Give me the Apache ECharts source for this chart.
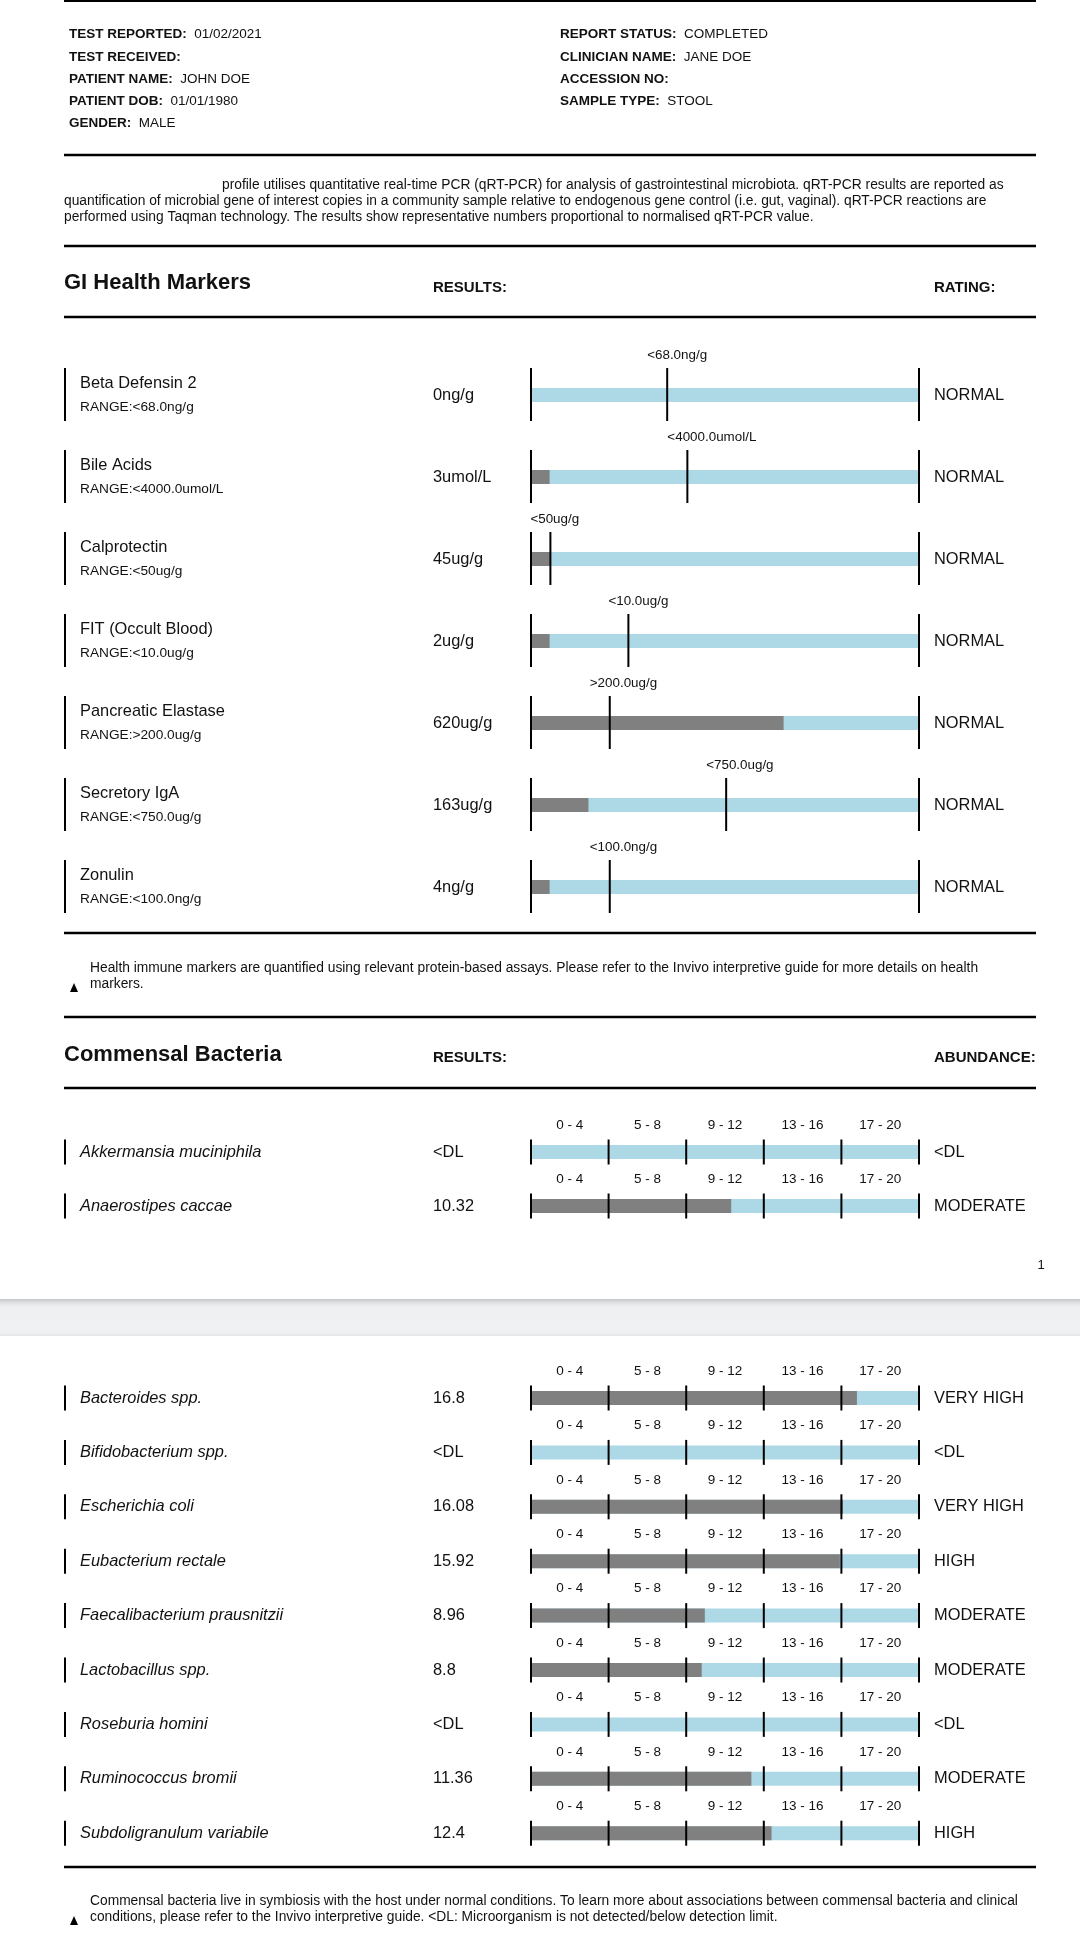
<!DOCTYPE html>
<html><head><meta charset="utf-8">
<script src="https://cdn.jsdelivr.net/npm/echarts@6/dist/echarts.min.js"></script>
<style>html,body{margin:0;padding:0;background:#fff}#c{width:1080px;height:1945px}</style>
</head><body><div id="c"></div>
<script>
// ---------- DATA ----------
const headerLeft = [['TEST REPORTED:', '01/02/2021'], ['TEST RECEIVED:', ''], ['PATIENT NAME:', 'JOHN DOE'], ['PATIENT DOB:', '01/01/1980'], ['GENDER:', 'MALE']];
const headerRight = [['REPORT STATUS:', 'COMPLETED'], ['CLINICIAN NAME:', 'JANE DOE'], ['ACCESSION NO:', ''], ['SAMPLE TYPE:', 'STOOL']];
const introLines = [
  'profile utilises quantitative real-time PCR (qRT-PCR) for analysis of gastrointestinal microbiota. qRT-PCR results are reported as',
  'quantification of microbial gene of interest copies in a community sample relative to endogenous gene control (i.e. gut, vaginal). qRT-PCR reactions are',
  'performed using Taqman technology. The results show representative numbers proportional to normalised qRT-PCR value.'
];
const giNames = ['Beta Defensin 2', 'Bile Acids', 'Calprotectin', 'FIT (Occult Blood)', 'Pancreatic Elastase', 'Secretory IgA', 'Zonulin'];
const giRanges = ['RANGE:<68.0ng/g', 'RANGE:<4000.0umol/L', 'RANGE:<50ug/g', 'RANGE:<10.0ug/g', 'RANGE:>200.0ug/g', 'RANGE:<750.0ug/g', 'RANGE:<100.0ng/g'];
const giThresholdLabels = ['<68.0ng/g', '<4000.0umol/L', '<50ug/g', '<10.0ug/g', '>200.0ug/g', '<750.0ug/g', '<100.0ng/g'];
const giResults = ['0ng/g', '3umol/L', '45ug/g', '2ug/g', '620ug/g', '163ug/g', '4ng/g'];
const giRatings = ['NORMAL', 'NORMAL', 'NORMAL', 'NORMAL', 'NORMAL', 'NORMAL', 'NORMAL'];
// positions on each marker's track, in percent of the track
const giThresholdPct = [35.1, 40.3, 5.0, 25.1, 20.3, 50.3, 20.3];
const giBarPct = [0, 4.8, 5.0, 4.8, 65.1, 14.8, 4.8];
const giFootnote = ['Health immune markers are quantified using relevant protein-based assays. Please refer to the Invivo interpretive guide for more details on health', 'markers.'];

const bandLabels = ['0 - 4', '5 - 8', '9 - 12', '13 - 16', '17 - 20'];
const bandTicks = [0, 4, 8, 12, 16, 20];
const bac1Names = ['Akkermansia muciniphila', 'Anaerostipes caccae'];
const bac1Results = ['<DL', '10.32'];
const bac1Values = [0, 10.32];
const bac1Abundance = ['<DL', 'MODERATE'];
const bac2Names = ['Bacteroides spp.', 'Bifidobacterium spp.', 'Escherichia coli', 'Eubacterium rectale', 'Faecalibacterium prausnitzii', 'Lactobacillus spp.', 'Roseburia homini', 'Ruminococcus bromii', 'Subdoligranulum variabile'];
const bac2Results = ['16.8', '<DL', '16.08', '15.92', '8.96', '8.8', '<DL', '11.36', '12.4'];
const bac2Values = [16.8, 0, 16.08, 15.92, 8.96, 8.8, 0, 11.36, 12.4];
const bac2Abundance = ['VERY HIGH', '<DL', 'VERY HIGH', 'HIGH', 'MODERATE', 'MODERATE', '<DL', 'MODERATE', 'HIGH'];
const bacFootnote = ['Commensal bacteria live in symbiosis with the host under normal conditions. To learn more about associations between commensal bacteria and clinical', 'conditions, please refer to the Invivo interpretive guide. <DL: Microorganism is not detected/below detection limit.'];

// ---------- STYLE ----------
const FF = "'Liberation Sans', Arial, Helvetica, sans-serif";
const BLUE = '#add8e6', GREY = '#808080', INK = '#111';
const F_MAIN = '16.4px ' + FF, F_SMALL = '13.8px ' + FF;

function txt(text, x, y, font, opts) {
  opts = opts || {};
  return { type: 'text', x: x, y: y, silent: true, z: 10,
    style: Object.assign({ text: text, font: font, fill: INK, align: opts.align || 'left', textAlign: opts.align || 'left',
      verticalAlign: 'middle', textVerticalAlign: 'middle' }, opts.rich ? { rich: opts.rich } : {}) };
}
function hline(y, w) {
  return { type: 'line', silent: true, z: 10, shape: { x1: 64, y1: y, x2: 1036, y2: y }, style: { stroke: '#000', lineWidth: w || 2.5 } };
}
function tri(x, y) {
  return { type: 'polygon', silent: true, z: 10, shape: { points: [[x - 4, y + 4], [x + 4, y + 4], [x, y - 5]] }, style: { fill: '#000' } };
}

const g = [];
g.push(hline(1, 2));
const hdrRich = { b: { font: 'bold 13.5px ' + FF, fill: INK } };
headerLeft.forEach((r, i) => g.push(txt('{b|' + r[0] + '}  ' + r[1], 69, [34, 57, 79, 101, 123][i], '13.5px ' + FF, { rich: hdrRich })));
headerRight.forEach((r, i) => g.push(txt('{b|' + r[0] + '}  ' + r[1], 560, [34, 57, 79, 101][i], '13.5px ' + FF, { rich: hdrRich })));
g.push(hline(155));
introLines.forEach((l, i) => g.push(txt(l, i === 0 ? 222 : 64, 185 + i * 16, F_SMALL)));
g.push(hline(246));
g.push(txt('GI Health Markers', 64, 283, 'bold 22px ' + FF));
g.push(txt('RESULTS:', 433, 288, 'bold 15px ' + FF));
g.push(txt('RATING:', 934, 288, 'bold 15px ' + FF));
g.push(hline(317));
g.push(hline(933));
giFootnote.forEach((l, i) => g.push(txt(l, 90, 968 + i * 16, F_SMALL)));
g.push(tri(74, 988));
g.push(hline(1017));
g.push(txt('Commensal Bacteria', 64, 1055, 'bold 22px ' + FF));
g.push(txt('RESULTS:', 433, 1058, 'bold 15px ' + FF));
g.push(txt('ABUNDANCE:', 934, 1058, 'bold 15px ' + FF));
g.push(hline(1088));
g.push(txt('1', 1041, 1265, '13px ' + FF, { align: 'center' }));
// page break band
g.push({ type: 'rect', silent: true, z: 5, shape: { x: 0, y: 1299, width: 1080, height: 37 },
  style: { fill: new echarts.graphic.LinearGradient(0, 0, 0, 1, [
    { offset: 0, color: '#c3c6c7' }, { offset: 0.08, color: '#dcdedf' }, { offset: 0.2, color: '#eff0f2' },
    { offset: 0.9, color: '#f0f1f3' }, { offset: 1, color: '#e6e7e8' }]) } });
g.push(hline(1867));
bacFootnote.forEach((l, i) => g.push(txt(l, 90, 1901 + i * 16, F_SMALL)));
g.push(tri(74, 1921));

// ---------- render functions ----------
function giRender(params, api) {
  const i = params.dataIndex;
  const cy = api.coord([0, i])[1];
  const x0 = api.coord([0, i])[0], x1 = api.coord([100, i])[0], xt = api.coord([giThresholdPct[i], i])[0];
  const ch = [];
  [x0, xt, x1].forEach(x => ch.push({ type: 'line', shape: { x1: x, y1: cy - 27, x2: x, y2: cy + 26 }, style: { stroke: '#000', lineWidth: 2 } }));
  ch.push({ type: 'line', shape: { x1: 65, y1: cy - 27, x2: 65, y2: cy + 26 }, style: { stroke: '#000', lineWidth: 2 } });
  const t = (s, x, y, f, al) => ({ type: 'text', style: { text: s, x: x, y: y, font: f, fill: INK, align: al || 'left', textAlign: al || 'left', verticalAlign: 'middle', textVerticalAlign: 'middle' } });
  ch.push(t(giThresholdLabels[i], xt - 20, cy - 40, '13.4px ' + FF));
  ch.push(t(giNames[i], 80, cy - 12, F_MAIN));
  ch.push(t(giRanges[i], 80, cy + 12, '13.7px ' + FF));
  ch.push(t(giResults[i], 433, cy, F_MAIN));
  ch.push(t(giRatings[i], 934, cy, F_MAIN));
  return { type: 'group', children: ch };
}
function bacRenderFactory(names, results, abund) {
  return function (params, api) {
    const i = params.dataIndex;
    const cy = api.coord([0, i])[1];
    const ch = [];
    const t = (s, x, y, f, al) => ({ type: 'text', style: { text: s, x: x, y: y, font: f, fill: INK, align: al || 'left', textAlign: al || 'left', verticalAlign: 'middle', textVerticalAlign: 'middle' } });
    bandTicks.forEach(v => {
      const x = api.coord([v, i])[0];
      ch.push({ type: 'line', shape: { x1: x, y1: cy - 12.5, x2: x, y2: cy + 12.5 }, style: { stroke: '#000', lineWidth: 2 } });
    });
    bandLabels.forEach((l, k) => {
      const xm = api.coord([(bandTicks[k] + bandTicks[k + 1]) / 2, i])[0];
      ch.push(t(l, xm, cy - 27, '13.5px ' + FF, 'center'));
    });
    ch.push({ type: 'line', shape: { x1: 65, y1: cy - 12.5, x2: 65, y2: cy + 12.5 }, style: { stroke: '#000', lineWidth: 2 } });
    ch.push(t(names[i], 80, cy, 'italic ' + F_MAIN));
    ch.push(t(results[i], 433, cy, F_MAIN));
    ch.push(t(abund[i], 934, cy, F_MAIN));
    return { type: 'group', children: ch };
  };
}

const chart = echarts.init(document.getElementById('c'), null, { renderer: 'canvas', width: 1080, height: 1945 });
const catAxis = (n, idx) => ({ type: 'category', gridIndex: idx, data: Array.from({ length: n }, (_, k) => k), inverse: true, show: false });
chart.setOption({
  backgroundColor: '#fff',
  animation: false,
  graphic: { elements: g },
  grid: [
    { left: 531, width: 388, top: 354, height: 574 },
    { left: 531, width: 388, top: 1125, height: 108 },
    { left: 531, width: 388, top: 1370.8, height: 489.6 }
  ],
  xAxis: [
    { type: 'value', gridIndex: 0, min: 0, max: 100, show: false },
    { type: 'value', gridIndex: 1, min: 0, max: 20, interval: 4, show: false },
    { type: 'value', gridIndex: 2, min: 0, max: 20, interval: 4, show: false }
  ],
  yAxis: [catAxis(giNames.length, 0), catAxis(bac1Names.length, 1), catAxis(bac2Names.length, 2)],
  series: [
    { type: 'bar', xAxisIndex: 0, yAxisIndex: 0, data: giNames.map(() => 100), barWidth: 14, barGap: '-100%', itemStyle: { color: BLUE }, silent: true, z: 2 },
    { type: 'bar', xAxisIndex: 0, yAxisIndex: 0, data: giBarPct, barWidth: 14, barGap: '-100%', itemStyle: { color: GREY }, silent: true, z: 3 },
    { type: 'custom', xAxisIndex: 0, yAxisIndex: 0, clip: false, z: 5, silent: true, renderItem: giRender,
      data: giNames.map((n, k) => [giThresholdPct[k], k]), encode: { x: 0, y: 1 } },

    { type: 'bar', xAxisIndex: 1, yAxisIndex: 1, data: bac1Names.map(() => 20), barWidth: 14, barGap: '-100%', itemStyle: { color: BLUE }, silent: true, z: 2 },
    { type: 'bar', xAxisIndex: 1, yAxisIndex: 1, data: bac1Values, barWidth: 14, barGap: '-100%', itemStyle: { color: GREY }, silent: true, z: 3 },
    { type: 'custom', xAxisIndex: 1, yAxisIndex: 1, clip: false, z: 5, silent: true, renderItem: bacRenderFactory(bac1Names, bac1Results, bac1Abundance),
      data: bac1Values.map((v, k) => [v, k]), encode: { x: 0, y: 1 } },

    { type: 'bar', xAxisIndex: 2, yAxisIndex: 2, data: bac2Names.map(() => 20), barWidth: 14, barGap: '-100%', itemStyle: { color: BLUE }, silent: true, z: 2 },
    { type: 'bar', xAxisIndex: 2, yAxisIndex: 2, data: bac2Values, barWidth: 14, barGap: '-100%', itemStyle: { color: GREY }, silent: true, z: 3 },
    { type: 'custom', xAxisIndex: 2, yAxisIndex: 2, clip: false, z: 5, silent: true, renderItem: bacRenderFactory(bac2Names, bac2Results, bac2Abundance),
      data: bac2Values.map((v, k) => [v, k]), encode: { x: 0, y: 1 } }
  ]
});
</script></body></html>
